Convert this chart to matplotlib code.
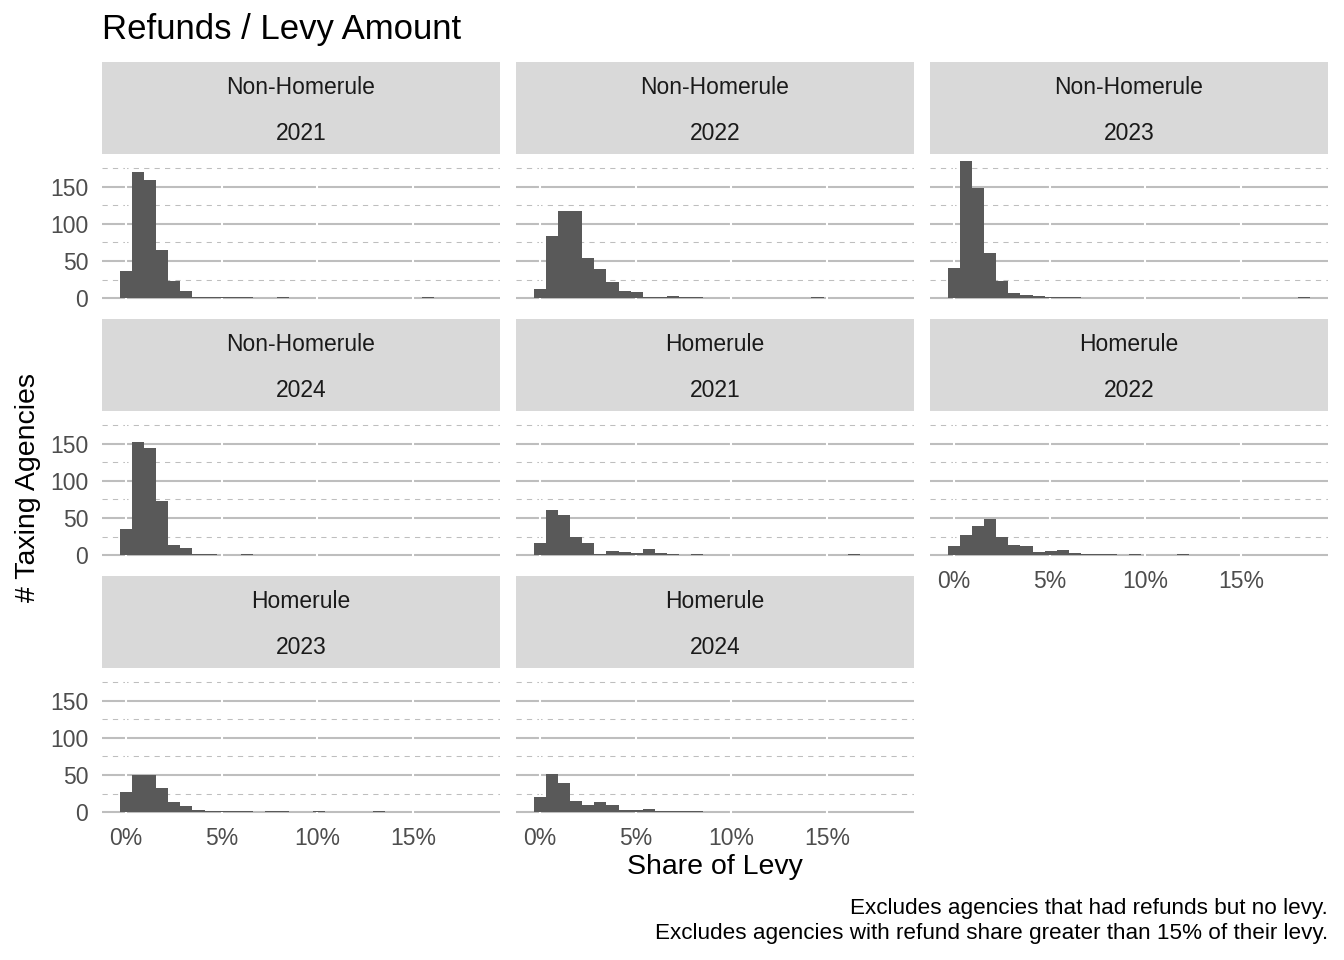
import matplotlib
matplotlib.use("Agg")
import matplotlib.pyplot as plt
import numpy as np


plt.rcParams["font.family"] = ["Liberation Sans", "DejaVu Sans"]

TITLE = "Refunds / Levy Amount"
X_LABEL = "Share of Levy"
Y_LABEL = "# Taxing Agencies"
CAPTION = ("Excludes agencies that had refunds but no levy.\n"
           "Excludes agencies with refund share greater than 15% of their levy.")

PANEL_GROUPS = ["Non-Homerule", "Non-Homerule", "Non-Homerule", "Non-Homerule",
                "Homerule", "Homerule", "Homerule", "Homerule"]
PANEL_YEARS = ["2021", "2022", "2023", "2024", "2021", "2022", "2023", "2024"]

# 30 histogram bins (share of levy, in %)
BIN_START = -0.31
BIN_WIDTH = 0.63

NH_2021 = [37, 170, 159, 65, 23, 10, 1, 1, 1, 1, 1, 0, 0, 1, 0,
           0, 0, 0, 0, 0, 0, 0, 0, 0, 0, 1, 0, 0, 0, 0]
NH_2022 = [12, 84, 118, 117, 54, 39, 22, 10, 8, 1, 1, 3, 1, 1, 0,
           0, 0, 0, 0, 0, 0, 0, 0, 1, 0, 0, 0, 0, 0, 0]
NH_2023 = [41, 185, 148, 61, 23, 7, 4, 3, 1, 1, 1, 0, 0, 0, 0,
           0, 0, 0, 0, 0, 0, 0, 0, 0, 0, 0, 0, 0, 0, 1]
NH_2024 = [35, 152, 145, 73, 14, 10, 1, 1, 0, 0, 1, 0, 0, 0, 0,
           0, 0, 0, 0, 0, 0, 0, 0, 0, 0, 0, 0, 0, 0, 0]
H_2021 = [16, 61, 54, 24, 16, 1, 5, 4, 3, 8, 3, 1, 0, 1, 0,
          0, 0, 0, 0, 0, 0, 0, 0, 0, 0, 0, 1, 0, 0, 0]
H_2022 = [12, 27, 39, 49, 24, 14, 12, 4, 5, 7, 3, 1, 1, 1, 0,
          1, 0, 0, 0, 1, 0, 0, 0, 0, 0, 0, 0, 0, 0, 0]
H_2023 = [27, 50, 50, 33, 14, 8, 3, 1, 1, 1, 1, 0, 1, 1, 0,
          0, 1, 0, 0, 0, 0, 1, 0, 0, 0, 0, 0, 0, 0, 0]
H_2024 = [20, 52, 39, 15, 10, 14, 10, 3, 3, 4, 1, 1, 1, 1, 0,
          0, 0, 0, 0, 0, 0, 0, 0, 0, 0, 0, 0, 0, 0, 0]

PANEL_COUNTS = [NH_2021, NH_2022, NH_2023, NH_2024, H_2021, H_2022, H_2023, H_2024]

X_TICKS = [0, 5, 10, 15]
Y_TICKS = [0, 50, 100, 150]
Y_MINOR = [25, 75, 125, 175]

W, H = 1344, 960
BAR_COLOR = "#595959"
GRID_COLOR = "#BEBEBE"
STRIP_COLOR = "#D9D9D9"
TICK_COLOR = "#4D4D4D"

COL_LEFT = [102, 516, 930]
PANEL_W = 398
ROW_STRIP_TOP = [62, 319, 576]
STRIP_H = 92
PANEL_H = 151


def fig_rect(left, top, width, height):
    return [left / W, 1 - (top + height) / H, width / W, height / H]


fig = plt.figure(figsize=(W / 100, H / 100), dpi=100)

n_bins = len(NH_2021)
edges = BIN_START + BIN_WIDTH * np.arange(n_bins + 1)
x_lo, x_hi = edges[0], edges[-1]
x_pad = 0.05 * (x_hi - x_lo)
y_max = max(max(c) for c in PANEL_COUNTS)
y_pad = 0.05 * y_max

for i, counts in enumerate(PANEL_COUNTS):
    row, col = divmod(i, 3)
    left = COL_LEFT[col]
    strip_top = ROW_STRIP_TOP[row]

    strip = fig.add_axes(fig_rect(left, strip_top, PANEL_W, STRIP_H))
    strip.set_facecolor(STRIP_COLOR)
    strip.set_xticks([])
    strip.set_yticks([])
    for s in strip.spines.values():
        s.set_visible(False)
    strip.text(0.5, 0.728, PANEL_GROUPS[i], ha="center", va="center",
               fontsize=16.5, color="#1A1A1A", transform=strip.transAxes)
    strip.text(0.5, 0.228, PANEL_YEARS[i], ha="center", va="center",
               fontsize=16.5, color="#1A1A1A", transform=strip.transAxes)

    ax = fig.add_axes(fig_rect(left, strip_top + STRIP_H, PANEL_W, PANEL_H))
    ax.set_xlim(x_lo - x_pad, x_hi + x_pad)
    ax.set_ylim(-y_pad, y_max + y_pad)
    for s in ax.spines.values():
        s.set_visible(False)

    for y in Y_TICKS:
        ax.axhline(y, color=GRID_COLOR, lw=1.5, zorder=1)
    for y in Y_MINOR:
        ax.axhline(y, color=GRID_COLOR, lw=0.75, ls=(0, (5, 5)), zorder=1)
    for x in X_TICKS:
        ax.axvline(x, color="white", lw=1.5, zorder=2)

    ax.bar(edges[:-1], counts, width=BIN_WIDTH, align="edge",
           color=BAR_COLOR, linewidth=0, zorder=3)

    ax.set_xticks(X_TICKS)
    ax.set_yticks(Y_TICKS)
    ax.tick_params(length=0, labelsize=16.5, labelcolor=TICK_COLOR)
    ax.tick_params(axis="x", pad=6)
    ax.tick_params(axis="y", pad=10)
    # x labels only on the bottom panel of each column
    if i + 3 >= len(PANEL_COUNTS):
        ax.set_xticklabels([f"{t}%" for t in X_TICKS])
    else:
        ax.set_xticklabels([])
    if col == 0:
        ax.set_yticklabels([str(t) for t in Y_TICKS])
    else:
        ax.set_yticklabels([])

fig.text(102 / W, 1 - 30 / H, TITLE, ha="left", va="center", fontsize=25, color="black")
fig.text(715 / W, 1 - 867 / H, X_LABEL, ha="center", va="center", fontsize=20.5, color="black")
fig.text(28 / W, 1 - 487 / H, Y_LABEL, ha="center", va="center", rotation=90,
         fontsize=20.5, color="black")
fig.text(1328 / W, 1 - 921 / H, CAPTION, ha="right", va="center", fontsize=16.2,
         color="black", multialignment="right", linespacing=1.2)

fig.savefig("out.png", dpi=100, facecolor="white")
